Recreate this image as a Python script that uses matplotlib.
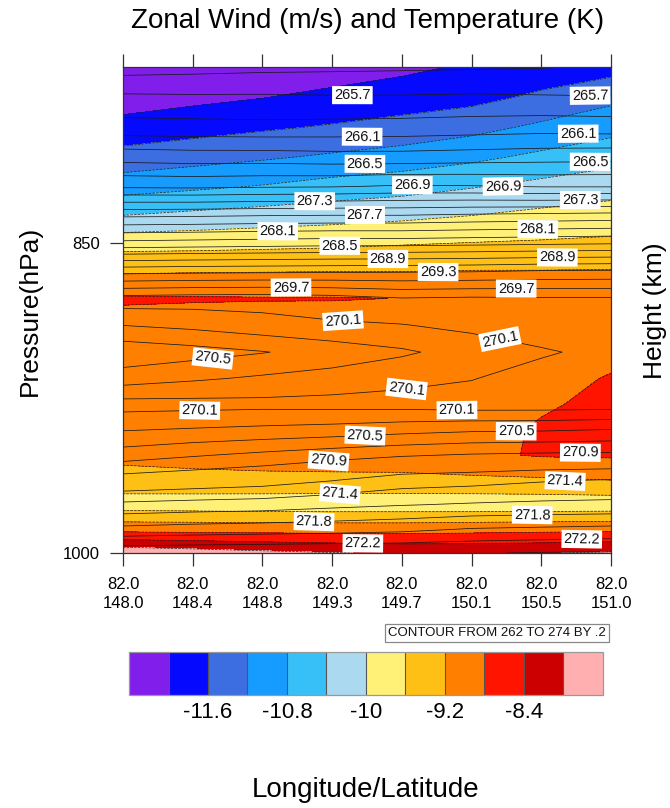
import numpy as np
import matplotlib
matplotlib.use("Agg")
import matplotlib.pyplot as plt
from matplotlib.colors import ListedColormap, BoundaryNorm
from matplotlib.cm import ScalarMappable
from matplotlib.ticker import NullLocator

plt.rcParams['font.family'] = ['Liberation Sans', 'DejaVu Sans']

# Cross-section points (lat / lon) along the section
lat_labels = ["82.0", "82.0", "82.0", "82.0", "82.0", "82.0", "82.0", "82.0"]
lon_labels = ["148.0", "148.4", "148.8", "149.3", "149.7", "150.1", "150.5", "151.0"]

# Pressure levels (hPa)
pressure = [775, 787.5, 800, 812.5, 825, 837.5, 850, 862.5, 875, 887.5,
            900, 912.5, 925, 937.5, 950, 962.5, 975, 987.5, 1000]

# Zonal wind (m/s), one row per pressure level, one column per section point
wind = [
    [-12.45, -12.40, -12.35, -12.22, -12.09, -11.95, -11.85, -11.75],
    [-12.20, -12.10, -12.01, -11.89, -11.80, -11.72, -11.52, -11.30],
    [-11.85, -11.75, -11.65, -11.56, -11.46, -11.32, -11.12, -10.93],
    [-11.45, -11.35, -11.25, -11.14, -11.03, -10.89, -10.71, -10.55],
    [-10.98, -10.88, -10.78, -10.65, -10.56, -10.43, -10.29, -10.15],
    [-10.41, -10.32, -10.24, -10.17, -10.10, -10.01, -9.91, -9.85],
    [-9.75, -9.74, -9.71, -9.68, -9.63, -9.59, -9.56, -9.52],
    [-9.25, -9.23, -9.22, -9.21, -9.21, -9.19, -9.19, -9.18],
    [-8.76, -8.77, -8.78, -8.78, -8.805, -9.00, -9.02, -9.05],
    [-8.92, -8.96, -8.98, -9.00, -9.02, -9.03, -9.00, -8.95],
    [-9.00, -9.02, -9.04, -9.05, -9.05, -9.04, -8.98, -8.88],
    [-9.00, -9.03, -9.05, -9.06, -9.05, -9.00, -8.90, -8.78],
    [-9.05, -9.06, -9.07, -9.07, -9.05, -8.98, -8.85, -8.70],
    [-9.08, -9.09, -9.08, -9.07, -9.03, -8.97, -8.75, -8.68],
    [-9.10, -9.06, -9.03, -9.00, -8.98, -8.87, -8.77, -8.75],
    [-9.35, -9.32, -9.30, -9.30, -9.30, -9.28, -9.25, -9.20],
    [-9.80, -9.82, -9.84, -9.85, -9.85, -9.86, -9.86, -9.85],
    [-8.95, -8.96, -8.97, -8.98, -8.98, -8.95, -8.92, -8.90],
    [-7.70, -7.80, -7.90, -7.98, -8.05, -8.05, -8.02, -7.95],
]

# Temperature (K) on the same grid
temp = [
    [265.41, 265.43, 265.45, 265.46, 265.47, 265.48, 265.49, 265.52],
    [265.74, 265.73, 265.73, 265.72, 265.72, 265.73, 265.72, 265.71],
    [265.98, 265.97, 265.96, 265.97, 265.98, 266.00, 266.02, 266.01],
    [266.42, 266.40, 266.40, 266.38, 266.38, 266.40, 266.42, 266.43],
    [266.86, 266.85, 266.87, 266.88, 266.92, 266.91, 266.88, 266.88],
    [267.65, 267.66, 267.68, 267.69, 267.69, 267.72, 267.74, 267.76],
    [268.36, 268.38, 268.40, 268.42, 268.42, 268.44, 268.46, 268.48],
    [269.22, 269.24, 269.25, 269.26, 269.27, 269.28, 269.31, 269.32],
    [269.98, 270.00, 270.01, 269.98, 269.91, 269.93, 269.92, 269.92],
    [270.30, 270.25, 270.18, 270.13, 270.11, 270.05, 269.96, 269.98],
    [270.64, 270.58, 270.51, 270.42, 270.33, 270.22, 270.13, 270.03],
    [270.40, 270.33, 270.27, 270.22, 270.16, 270.11, 270.00, 270.04],
    [270.02, 270.03, 270.04, 270.03, 270.02, 269.99, 269.99, 270.00],
    [270.29, 270.32, 270.35, 270.38, 270.43, 270.47, 270.48, 270.51],
    [270.60, 270.68, 270.75, 270.82, 270.88, 270.92, 270.94, 270.95],
    [271.00, 271.05, 271.10, 271.19, 271.30, 271.33, 271.38, 271.41],
    [271.45, 271.48, 271.50, 271.55, 271.59, 271.62, 271.64, 271.65],
    [271.85, 271.88, 271.90, 271.92, 271.95, 272.01, 272.03, 272.05],
    [272.35, 272.36, 272.37, 272.38, 272.38, 272.39, 272.41, 272.42],
]

wind_levels = [-12.0, -11.6, -11.2, -10.8, -10.4, -10.0, -9.6, -9.2, -8.8, -8.4, -8.0]
wind_colors = ["#821eeb", "#050aff", "#3c6ee1", "#169bff", "#37c0f8", "#aad9f0",
               "#fff078", "#ffc016", "#ff8000", "#ff1400", "#cc0000", "#ffafaf"]

# Temperature contours: labelled levels and the ones in between
temp_label_levels = [265.7, 266.1, 266.5, 266.9, 267.3, 267.7, 268.1, 268.5, 268.9,
                     269.3, 269.7, 270.1, 270.5, 270.9, 271.4, 271.8, 272.2]
temp_plain_levels = [265.3, 265.5, 265.9, 266.3, 266.7, 267.1, 267.5, 267.9, 268.3,
                     268.7, 269.1, 269.5, 269.9, 270.3, 270.7, 271.2, 271.6, 272.0,
                     272.4, 272.6]

# Where the temperature labels sit (section index, pressure)
label_spots = [
    (3.29, 786.6), (6.70, 787.4),
    (3.43, 804.5), (6.53, 804.1),
    (3.47, 815.1), (6.70, 814.2),
    (4.15, 825.8), (5.45, 825.0),
    (2.75, 832.4), (6.56, 831.1),
    (3.47, 838.1),
    (2.22, 845.6), (5.95, 843.3),
    (3.11, 851.8),
    (3.80, 857.2), (6.23, 856.7),
    (4.52, 863.5),
    (2.41, 870.8), (5.64, 871.2),
    (3.16, 882.7), (5.41, 893.4), (4.07, 918.1), (1.10, 926.3), (4.79, 928.7),
    (1.29, 903.8), (3.47, 938.5), (5.64, 938.5),
    (2.94, 949.4), (6.56, 947.4),
    (3.11, 969.0), (6.34, 961.4),
    (2.74, 983.9), (5.87, 980.3),
    (3.44, 993.2), (6.58, 991.1),
]

cbar_ticks = [-11.6, -10.8, -10.0, -9.2, -8.4]
cbar_ticklabels = ["-11.6", "-10.8", "-10", "-9.2", "-8.4"]
cbar_bounds = [-12.4, -12.0, -11.6, -11.2, -10.8, -10.4, -10.0, -9.6, -9.2, -8.8, -8.4, -8.0, -7.6]

x = np.arange(len(lon_labels))
p = np.array(pressure)
U = np.array(wind)
T = np.array(temp)

fig = plt.figure(figsize=(6.7, 8.08), dpi=100)
ax = fig.add_axes([123 / 670, 1 - 553 / 808, 488 / 670, 486 / 808])

ax.contourf(x, p, U, levels=wind_levels, colors=wind_colors, extend='both')
ax.contour(x, p, U, levels=wind_levels, colors='#202020', linewidths=0.5)
ax.contour(x, p, T, levels=temp_plain_levels, colors='#1a1a1a', linewidths=0.55)
cs = ax.contour(x, p, T, levels=temp_label_levels, colors='#1a1a1a', linewidths=0.55)
labels = ax.clabel(cs, inline=False, fontsize=10.5, fmt='%.1f',
                   colors='#111111', manual=label_spots)
for t in labels:
    t.set_bbox(dict(boxstyle='square,pad=0.14', fc='white', ec='none'))
    t.set_zorder(5)

ax.set_yscale('log')
ax.set_ylim(1000, 775)
ax.set_xlim(0, len(lon_labels) - 1)
ax.set_yticks([850, 1000])
ax.set_yticklabels(['850', '1000'])
ax.yaxis.set_minor_locator(NullLocator())
ax.set_xticks(x)
ax.set_xticklabels([f"{a}\n{b}" for a, b in zip(lat_labels, lon_labels)], linespacing=1.3)
ax.tick_params(axis='x', which='both', direction='out', top=True, bottom=True,
               length=9.5, width=0.9, color='#333333', labelsize=12, pad=8)
ax.tick_params(axis='y', which='both', direction='out', left=True, right=False,
               length=9.5, width=0.9, color='#333333', labelsize=12, pad=7)
for s in ax.spines.values():
    s.set_color('#333333')
    s.set_linewidth(0.9)

fig.text(368 / 670, 1 - 21 / 808, "Zonal Wind (m/s) and Temperature (K)",
         ha='center', va='center', fontsize=20)
fig.text(30 / 670, 1 - 311 / 808, "Pressure(hPa)", rotation=90,
         ha='center', va='center', fontsize=19)
fig.text(655 / 670, 1 - 311 / 808, "Height (km)", rotation=90,
         ha='center', va='center', fontsize=19)
fig.text(366 / 670, 1 - 790 / 808, "Longitude/Latitude",
         ha='center', va='center', fontsize=20)

fig.text(606 / 670, 1 - 633 / 808, "CONTOUR FROM 262 TO 274 BY .2",
         ha='right', va='center', fontsize=9.5, color='#111111',
         bbox=dict(boxstyle='square,pad=0.25', fc='white', ec='#888888', lw=0.9))

cax = fig.add_axes([129 / 670, 1 - 695 / 808, 474 / 670, 43 / 808])
sm = ScalarMappable(norm=BoundaryNorm(cbar_bounds, len(wind_colors)),
                    cmap=ListedColormap(wind_colors))
cb = fig.colorbar(sm, cax=cax, orientation='horizontal', ticks=cbar_ticks,
                  spacing='uniform', drawedges=True)
cb.ax.minorticks_off()
cb.ax.set_xticklabels(cbar_ticklabels)
cb.ax.tick_params(which='both', length=0, labelsize=16, pad=5)
cb.outline.set_edgecolor('#999999')
cb.outline.set_linewidth(0.9)
cb.dividers.set_color('#555555')
cb.dividers.set_linewidth(0.8)

fig.savefig("out.png", dpi=100)
